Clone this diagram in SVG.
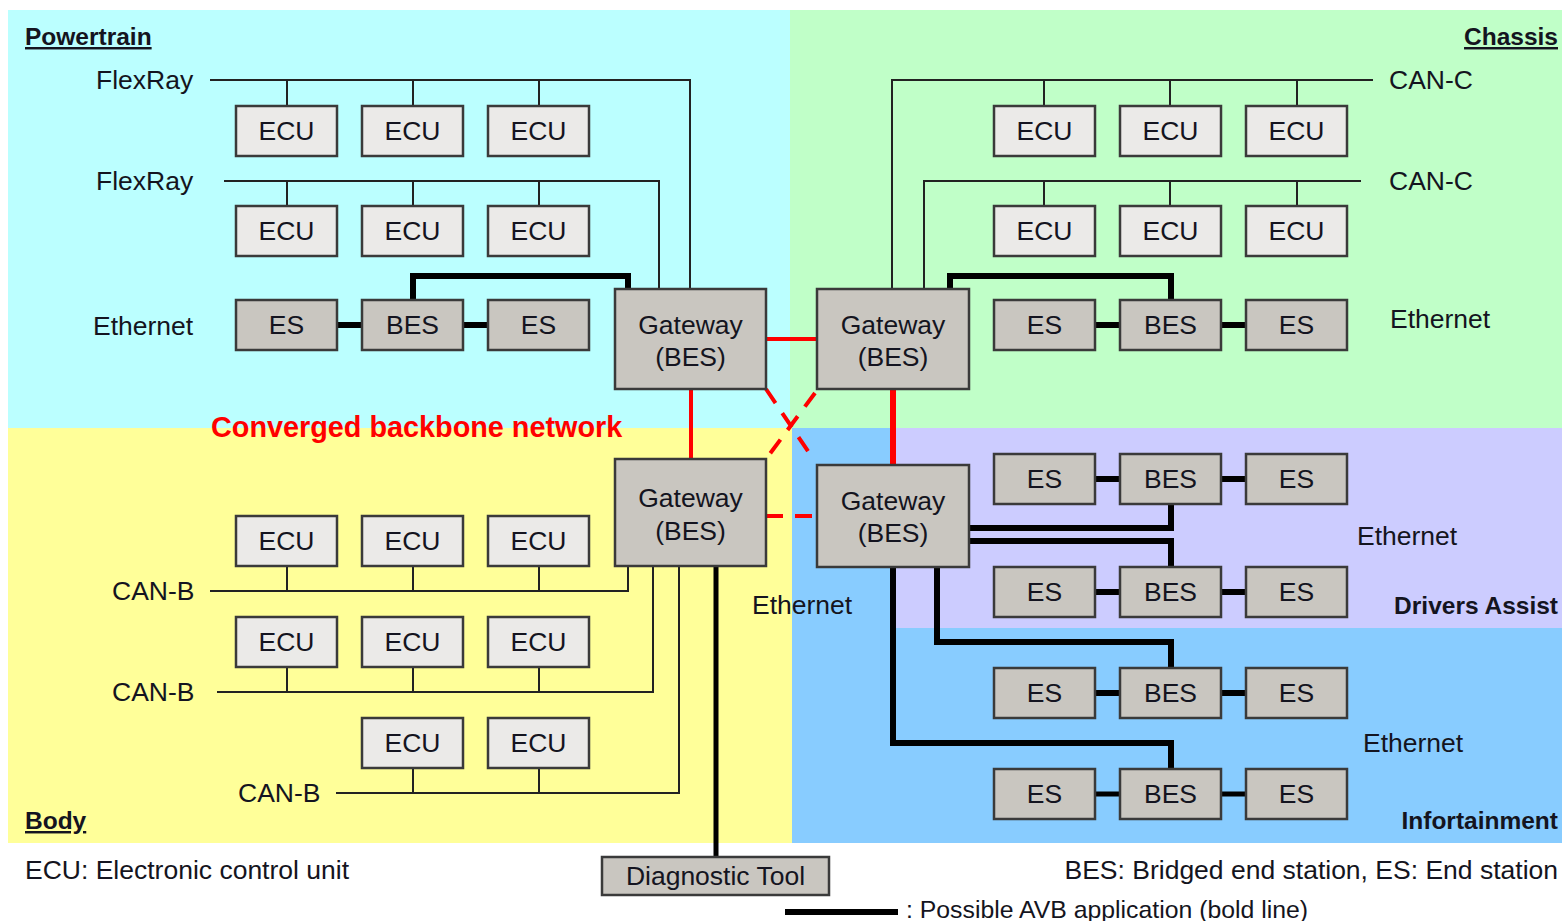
<svg xmlns="http://www.w3.org/2000/svg" width="1562" height="921" viewBox="0 0 1562 921">
<style>
text{font-family:"Liberation Sans",Arial,sans-serif;fill:#141420;font-size:26.5px}
.c{text-anchor:middle}
.e{text-anchor:end}
.sec{font-weight:bold;font-size:24.5px}
.u{text-decoration:underline}
.ecu{fill:#EBEAE8;stroke:#3a3a3a;stroke-width:2.5}
.es{fill:#C9C6C0;stroke:#3a3a3a;stroke-width:2.5}
.thin{fill:none;stroke:#222;stroke-width:2}
.thick{fill:none;stroke:#000;stroke-width:6}
.red{fill:none;stroke:#FF0000;stroke-width:4}
.dash{fill:none;stroke:#FF0000;stroke-width:4;stroke-dasharray:17 12}
</style>
<rect x="0" y="0" width="1562" height="921" fill="#ffffff"/>
<g id="regions">
<rect x="8" y="10" width="782" height="418" fill="#BBFFFF"/>
<rect x="790" y="10" width="772" height="418" fill="#C0FFC8"/>
<rect x="8" y="428" width="784" height="415" fill="#FFFF99"/>
<rect x="792" y="428" width="770" height="415" fill="#88CCFF"/>
<rect x="895" y="428" width="667" height="200" fill="#CCCCFF"/>
</g>
<g id="section-labels">
<text class="sec u" x="25" y="45">Powertrain</text>
<text class="sec u e" x="1558" y="45">Chassis</text>
<text class="sec u" x="25" y="829">Body</text>
<text class="sec e" x="1558" y="614">Drivers Assist</text>
<text class="sec e" x="1558" y="829">Infortainment</text>
<text x="211" y="437" style="fill:#FF0000;font-weight:bold;font-size:28.8px">Converged backbone network</text>
</g>
<g id="bus-labels">
<text x="96" y="89">FlexRay</text>
<text x="96" y="190">FlexRay</text>
<text x="93" y="335">Ethernet</text>
<text x="1389" y="89">CAN-C</text>
<text x="1389" y="190">CAN-C</text>
<text x="1390" y="328">Ethernet</text>
<text x="1357" y="545">Ethernet</text>
<text x="1363" y="752">Ethernet</text>
<text x="752" y="614">Ethernet</text>
<text x="112" y="600">CAN-B</text>
<text x="112" y="701">CAN-B</text>
<text x="238" y="802">CAN-B</text>
</g>
<g id="connectors">
<path class="thin" d="M210,80 H690 V289 M287,80 V106 M413,80 V106 M539,80 V106"/>
<path class="thin" d="M224,181 H659 V289 M287,181 V206 M413,181 V206 M539,181 V206"/>
<path class="thin" d="M1373,80 H892 V289 M1044,80 V106 M1170,80 V106 M1297,80 V106"/>
<path class="thin" d="M1361,181 H924 V289 M1044,181 V206 M1170,181 V206 M1297,181 V206"/>
<path class="thin" d="M210,591 H628 V566 M287,566 V591 M413,566 V591 M539,566 V591"/>
<path class="thin" d="M217,692 H653 V566 M287,667 V692 M413,667 V692 M539,667 V692"/>
<path class="thin" d="M336,793 H679 V566 M413,768 V793 M539,768 V793"/>
<path class="thick" d="M413,300 V276 H628 V289"/>
<path class="thick" d="M950,289 V276 H1171 V300"/>
<path class="thick" d="M337,325 H362 M463,325 H488"/>
<path class="thick" d="M1095,325 H1120 M1221,325 H1246"/>
<path class="thick" d="M1095,479 H1120 M1221,479 H1246"/>
<path class="thick" d="M1095,592 H1120 M1221,592 H1246"/>
<path class="thick" d="M1095,693 H1120 M1221,693 H1246"/>
<path class="thick" d="M1095,794 H1120 M1221,794 H1246" style="stroke-width:5"/>
<path class="thick" d="M969,528 H1171 V503"/>
<path class="thick" d="M969,541 H1171 V567"/>
<path class="thick" d="M937,567 V642 H1171 V668"/>
<path class="thick" d="M893,567 V743 H1171 V769"/>
<path class="thick" d="M716,566 V857" style="stroke-width:5"/>
<path class="red" d="M766,339 H817"/>
<path class="red" d="M691,389 V459"/>
<path class="red" d="M893,389 V465" style="stroke-width:6"/>
<path class="dash" d="M766,516 H817"/>
<path class="dash" d="M766,389 L814,460"/>
<path class="dash" d="M815,393 L766,459"/>
</g>
<g id="pt-ecu1"><rect class="ecu" x="236" y="106" width="101" height="50"/><text class="c" x="286.5" y="140">ECU</text></g>
<g id="pt-ecu2"><rect class="ecu" x="362" y="106" width="101" height="50"/><text class="c" x="412.5" y="140">ECU</text></g>
<g id="pt-ecu3"><rect class="ecu" x="488" y="106" width="101" height="50"/><text class="c" x="538.5" y="140">ECU</text></g>
<g id="pt-ecu4"><rect class="ecu" x="236" y="206" width="101" height="50"/><text class="c" x="286.5" y="240">ECU</text></g>
<g id="pt-ecu5"><rect class="ecu" x="362" y="206" width="101" height="50"/><text class="c" x="412.5" y="240">ECU</text></g>
<g id="pt-ecu6"><rect class="ecu" x="488" y="206" width="101" height="50"/><text class="c" x="538.5" y="240">ECU</text></g>
<g id="pt-es1"><rect class="es" x="236" y="300" width="101" height="50"/><text class="c" x="286.5" y="334">ES</text></g>
<g id="pt-bes"><rect class="es" x="362" y="300" width="101" height="50"/><text class="c" x="412.5" y="334">BES</text></g>
<g id="pt-es2"><rect class="es" x="488" y="300" width="101" height="50"/><text class="c" x="538.5" y="334">ES</text></g>
<g id="ch-ecu1"><rect class="ecu" x="994" y="106" width="101" height="50"/><text class="c" x="1044.5" y="140">ECU</text></g>
<g id="ch-ecu2"><rect class="ecu" x="1120" y="106" width="101" height="50"/><text class="c" x="1170.5" y="140">ECU</text></g>
<g id="ch-ecu3"><rect class="ecu" x="1246" y="106" width="101" height="50"/><text class="c" x="1296.5" y="140">ECU</text></g>
<g id="ch-ecu4"><rect class="ecu" x="994" y="206" width="101" height="50"/><text class="c" x="1044.5" y="240">ECU</text></g>
<g id="ch-ecu5"><rect class="ecu" x="1120" y="206" width="101" height="50"/><text class="c" x="1170.5" y="240">ECU</text></g>
<g id="ch-ecu6"><rect class="ecu" x="1246" y="206" width="101" height="50"/><text class="c" x="1296.5" y="240">ECU</text></g>
<g id="ch-es1"><rect class="es" x="994" y="300" width="101" height="50"/><text class="c" x="1044.5" y="334">ES</text></g>
<g id="ch-bes"><rect class="es" x="1120" y="300" width="101" height="50"/><text class="c" x="1170.5" y="334">BES</text></g>
<g id="ch-es2"><rect class="es" x="1246" y="300" width="101" height="50"/><text class="c" x="1296.5" y="334">ES</text></g>
<g id="da-es1"><rect class="es" x="994" y="454" width="101" height="50"/><text class="c" x="1044.5" y="488">ES</text></g>
<g id="da-bes1"><rect class="es" x="1120" y="454" width="101" height="50"/><text class="c" x="1170.5" y="488">BES</text></g>
<g id="da-es2"><rect class="es" x="1246" y="454" width="101" height="50"/><text class="c" x="1296.5" y="488">ES</text></g>
<g id="da-es3"><rect class="es" x="994" y="567" width="101" height="50"/><text class="c" x="1044.5" y="601">ES</text></g>
<g id="da-bes2"><rect class="es" x="1120" y="567" width="101" height="50"/><text class="c" x="1170.5" y="601">BES</text></g>
<g id="da-es4"><rect class="es" x="1246" y="567" width="101" height="50"/><text class="c" x="1296.5" y="601">ES</text></g>
<g id="if-es1"><rect class="es" x="994" y="668" width="101" height="50"/><text class="c" x="1044.5" y="702">ES</text></g>
<g id="if-bes1"><rect class="es" x="1120" y="668" width="101" height="50"/><text class="c" x="1170.5" y="702">BES</text></g>
<g id="if-es2"><rect class="es" x="1246" y="668" width="101" height="50"/><text class="c" x="1296.5" y="702">ES</text></g>
<g id="if-es3"><rect class="es" x="994" y="769" width="101" height="50"/><text class="c" x="1044.5" y="803">ES</text></g>
<g id="if-bes2"><rect class="es" x="1120" y="769" width="101" height="50"/><text class="c" x="1170.5" y="803">BES</text></g>
<g id="if-es4"><rect class="es" x="1246" y="769" width="101" height="50"/><text class="c" x="1296.5" y="803">ES</text></g>
<g id="bd-ecu1"><rect class="ecu" x="236" y="516" width="101" height="50"/><text class="c" x="286.5" y="550">ECU</text></g>
<g id="bd-ecu2"><rect class="ecu" x="362" y="516" width="101" height="50"/><text class="c" x="412.5" y="550">ECU</text></g>
<g id="bd-ecu3"><rect class="ecu" x="488" y="516" width="101" height="50"/><text class="c" x="538.5" y="550">ECU</text></g>
<g id="bd-ecu4"><rect class="ecu" x="236" y="617" width="101" height="50"/><text class="c" x="286.5" y="651">ECU</text></g>
<g id="bd-ecu5"><rect class="ecu" x="362" y="617" width="101" height="50"/><text class="c" x="412.5" y="651">ECU</text></g>
<g id="bd-ecu6"><rect class="ecu" x="488" y="617" width="101" height="50"/><text class="c" x="538.5" y="651">ECU</text></g>
<g id="bd-ecu7"><rect class="ecu" x="362" y="718" width="101" height="50"/><text class="c" x="412.5" y="752">ECU</text></g>
<g id="bd-ecu8"><rect class="ecu" x="488" y="718" width="101" height="50"/><text class="c" x="538.5" y="752">ECU</text></g>
<g id="gw-pt"><rect class="es" x="615" y="289" width="151" height="100"/><text class="c" x="690.5" y="334">Gateway</text><text class="c" x="690.5" y="366">(BES)</text></g>
<g id="gw-ch"><rect class="es" x="817" y="289" width="152" height="100"/><text class="c" x="893" y="334">Gateway</text><text class="c" x="893" y="366">(BES)</text></g>
<g id="gw-bd"><rect class="es" x="615" y="459" width="151" height="107"/><text class="c" x="690.5" y="507">Gateway</text><text class="c" x="690.5" y="540">(BES)</text></g>
<g id="gw-da"><rect class="es" x="817" y="465" width="152" height="102"/><text class="c" x="893" y="510">Gateway</text><text class="c" x="893" y="542">(BES)</text></g>
<g id="diag-tool"><rect class="es" x="602" y="857" width="227" height="38"/><text class="c" x="715.5" y="885">Diagnostic Tool</text></g>
<g id="legend">
<text x="25" y="879">ECU: Electronic control unit</text>
<text class="e" x="1558" y="879">BES: Bridged end station, ES: End station</text>
<path class="thick" d="M785,912 H898"/>
<text x="906" y="918" style="font-size:24.8px">: Possible AVB application (bold line)</text>
</g>
</svg>
